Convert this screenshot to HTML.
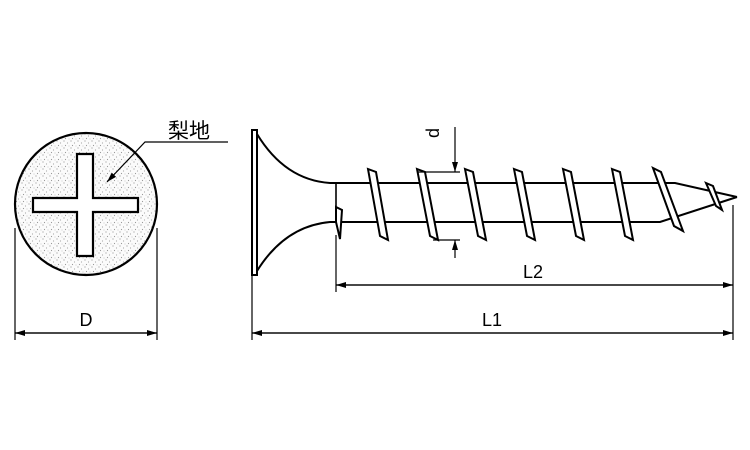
<!DOCTYPE html>
<html><head><meta charset="utf-8"><style>body{margin:0;background:#fff}svg{display:block}</style></head><body>
<svg width="750" height="450" viewBox="0 0 750 450" xmlns="http://www.w3.org/2000/svg" font-family="Liberation Sans, Noto Sans CJK JP, sans-serif">
<defs>
<pattern id="st" width="7" height="7" patternUnits="userSpaceOnUse">
<rect width="7" height="7" fill="#fbfbfb"/>
<circle cx="1" cy="1" r="0.6" fill="#999"/><circle cx="4.5" cy="3" r="0.6" fill="#aaa"/><circle cx="2.5" cy="5.5" r="0.6" fill="#999"/><circle cx="6" cy="6" r="0.5" fill="#bbb"/>
</pattern>
<marker id="a" markerWidth="10" markerHeight="6" refX="10" refY="3" orient="auto" markerUnits="userSpaceOnUse"><path d="M0,0 L10,3 L0,6z" fill="#000"/></marker>
</defs>
<g stroke="#000" fill="none" stroke-width="1.6">
<circle cx="86" cy="204" r="71" fill="url(#st)" stroke-width="2.2"/>
<path d="M77,154 H93 V198 H138 V212 H93 V256 H77 V212 H33 V198 H77 Z" fill="#fff" stroke-width="2.2"/>
<path d="M228,142 H145 L107,182" stroke-width="1.2" marker-end="url(#a)"/>
<rect x="252" y="130" width="5" height="145" fill="#fff" stroke-width="2"/>
<path d="M257,134 Q285,180 330,183 H336" stroke-width="2"/>
<path d="M257,271 Q285,226 330,222 H336" stroke-width="2"/>
<line x1="336" y1="183" x2="336" y2="222"/>
<path d="M336,183 H675 L737,197" stroke-width="2"/>
<path d="M336,222 H660 L737,197" stroke-width="2"/>
<g fill="#fff" stroke-width="2">
<path d="M336,207 L342,210 L340,239 L336,222Z"/>
<path d="M368,169 L376,172 L388,240 L380,236Z"/>
<path d="M417,169 L425,172 L438,240 L430,236Z"/>
<path d="M465,169 L473,172 L486,240 L478,236Z"/>
<path d="M514,169 L522,172 L535,240 L527,236Z"/>
<path d="M563,169 L571,172 L584,240 L576,236Z"/>
<path d="M612,169 L620,172 L633,240 L625,236Z"/>
<path d="M653,168 L661,172 L683,231 L674,226Z"/>
<path d="M706,183 L713,186 L722,210 L716,206Z"/>
</g>
<path d="M418,172 H460 M433,240 H460" stroke-width="1.2"/>
<path d="M455,127 V172" stroke-width="1.2" marker-end="url(#a)"/>
<path d="M455,258 V240" stroke-width="1.2" marker-end="url(#a)"/>
<g stroke-width="1.2">
<path d="M15,228 V340 M157,228 V340 M252,275 V340 M336,235 V292 M733,205 V340"/>
<path d="M15,333 H157" marker-end="url(#a)"/><path d="M157,333 H15" marker-end="url(#a)"/>
<path d="M252,333 H733" marker-end="url(#a)"/><path d="M733,333 H252" marker-end="url(#a)"/>
<path d="M336,285 H733" marker-end="url(#a)"/><path d="M733,285 H336" marker-end="url(#a)"/>
</g>
</g>
<g font-size="18" fill="#000">
<text x="168" y="138" font-size="21">梨地</text>
<text x="86" y="326" text-anchor="middle">D</text>
<text x="492" y="326" text-anchor="middle">L1</text>
<text x="533" y="278" text-anchor="middle">L2</text>
<text x="0" y="0" transform="translate(439,133) rotate(-90)" text-anchor="middle">d</text>
</g>
</svg>
</body></html>
